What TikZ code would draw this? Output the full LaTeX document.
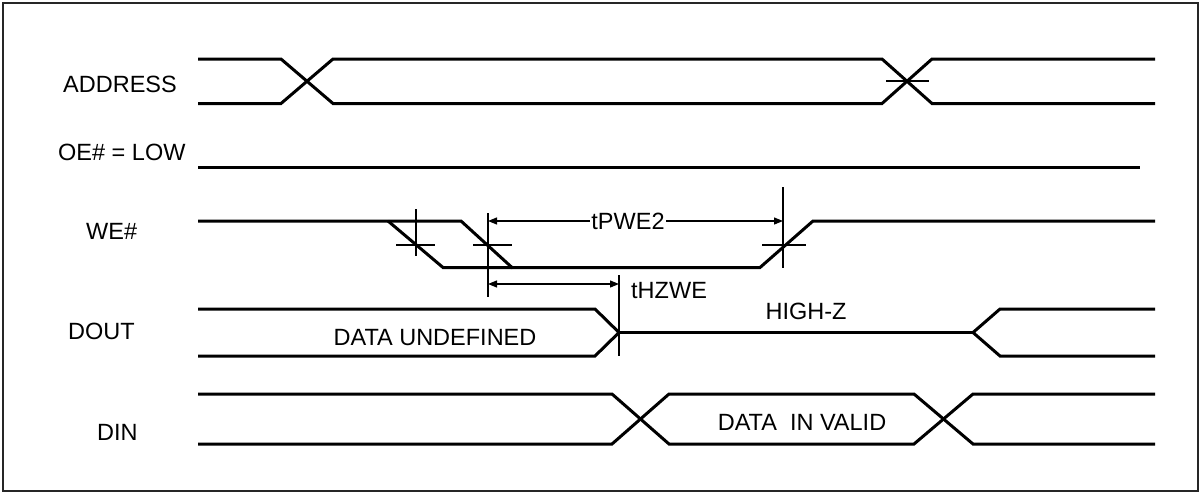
\documentclass[tikz,border=0pt]{standalone}
\usepackage{fontspec}
\setmainfont{Liberation Sans}
\usetikzlibrary{arrows.meta}

\tikzset{
  wave/.style={line width=3pt, line join=miter, line cap=butt},
  thin/.style={line width=1.3pt},
  dim/.style={line width=1.2pt, {Triangle[length=9pt,width=7pt]}-{Triangle[length=9pt,width=7pt]}},
  lbl/.style={inner sep=0pt, anchor=base west, font=\fontsize{23.5}{28}\selectfont},
  ctext/.style={inner sep=0pt, anchor=base, font=\fontsize{23.5}{28}\selectfont},
}

\begin{document}
\begin{tikzpicture}[x=1pt, y=-1pt]
  \useasboundingbox (0,0) rectangle (1201,493);
  % outer frame
  \draw[line width=2pt, black!85] (3,3) rectangle (1198,490.5);

  % signal names
  \node[lbl] (nAddr) at (63,92)  {ADDRESS};
  \node[lbl] (nOE)   at (58,160) {OE\# = LOW};
  \node[lbl] (nWE)   at (86,239) {WE\#};
  \node[lbl] (nDout) at (68,339) {DOUT};
  \node[lbl] (nDin)  at (97,440) {DIN};

  % ADDRESS bus with two transitions
  \draw[wave] (198,59) -- (281,59) -- (333,103.5) -- (882,103.5) -- (932,59) -- (1155,59);
  \draw[wave] (198,103.5) -- (281,103.5) -- (333,59) -- (882,59) -- (932,103.5) -- (1155,103.5);
  \draw[thin] (886,81) -- (929,81);

  % OE# held low
  \draw[wave] (198,167) -- (1140,167);

  % WE# pulse
  \draw[wave] (198,221) -- (461,221) -- (512,267.5) -- (760,267.5) -- (813,221) -- (1155,221);
  \draw[wave] (388,221) -- (443,267.5) -- (512,267.5);

  % reference marks on WE# edges
  \draw[thin] (416,209) -- (416,256);
  \draw[thin] (396,245) -- (435,245);
  \coordinate (wA) at (488,221);
  \coordinate (wB) at (783,221);
  \coordinate (hA) at (488,284);
  \coordinate (hB) at (619,284);
  \draw[thin] (488,213) -- (488,297);
  \draw[thin] (473,245) -- (512,245);
  \draw[thin] (783,187) -- (783,267.5);
  \draw[thin] (762,245) -- (806,245);
  \draw[thin] (619,275) -- (619,356);

  % tPWE2 and tHZWE
  \draw[dim] (wA) -- (wB);
  \node[ctext, fill=white, inner xsep=1pt] (tpwe) at (628,229) {tPWE2};
  \draw[dim] (hA) -- (hB);
  \node[lbl] (thz) at (631,298) {tHZWE};

  % DOUT
  \draw[wave] (198,309) -- (595,309) -- (619,332.5) -- (595,356) -- (198,356);
  \draw[wave] (619,332.5) -- (973,332.5);
  \draw[wave] (1155,309) -- (1000,309) -- (973,332.5) -- (1000,356) -- (1155,356);
  \node[ctext] (undef) at (435,345) {DATA UNDEFINED};
  \node[ctext] (hiz) at (806,319) {HIGH-Z};

  % DIN
  \draw[wave] (198,394) -- (612,394) -- (669,444) -- (914,444) -- (973,394) -- (1155,394);
  \draw[wave] (198,444) -- (612,444) -- (669,394) -- (914,394) -- (973,444) -- (1155,444);
  \node[ctext] (valid) at (802,430) {DATA\ \ IN VALID};
\end{tikzpicture}
\end{document}
